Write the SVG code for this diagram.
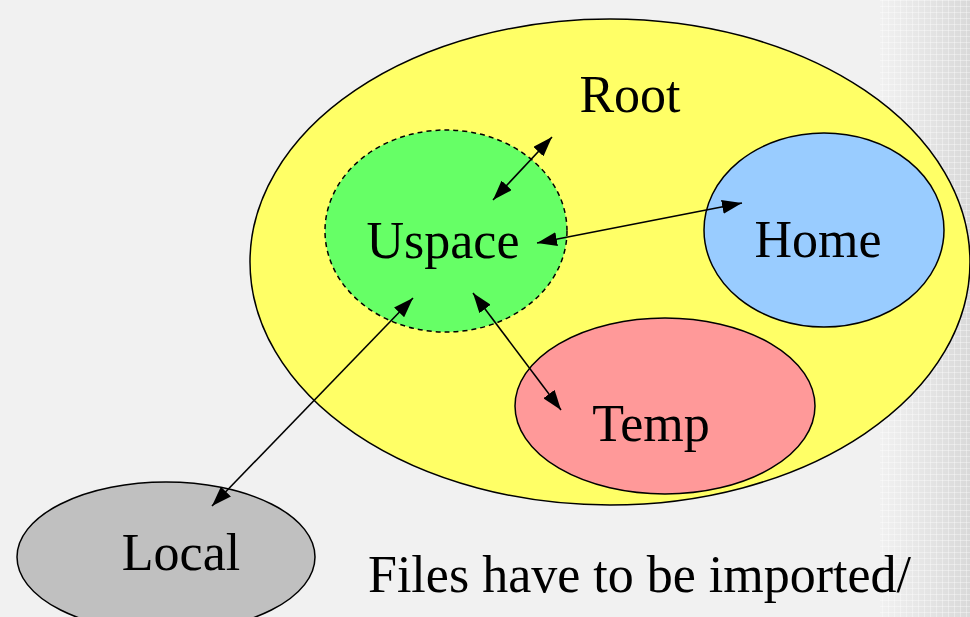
<svg xmlns="http://www.w3.org/2000/svg" width="970" height="617" viewBox="0 0 970 617">
<defs>
<linearGradient id="bgr" x1="880" y1="0" x2="970" y2="0" gradientUnits="userSpaceOnUse">
<stop offset="0" stop-color="#f1f1f1"/>
<stop offset="1" stop-color="#d9d9d9"/>
</linearGradient>
<pattern id="grid" x="0" y="0" width="6" height="6" patternUnits="userSpaceOnUse">
<path d="M0 0.5H6M0.5 0V6" stroke="#ffffff" stroke-opacity="0.35" stroke-width="1" fill="none"/>
</pattern>
<marker id="ah" viewBox="0 0 20 14" refX="20" refY="7" markerWidth="20" markerHeight="14" markerUnits="userSpaceOnUse" orient="auto-start-reverse">
<path d="M0 0L20 7L0 14z" fill="#000"/>
</marker>
</defs>
<style>
.lbl{font-family:"Liberation Serif","Times New Roman",serif;font-size:52px;fill:#000;text-anchor:middle}
.shape{stroke:#000;stroke-width:1.5}
.conn{stroke:#000;stroke-width:1.6;fill:none;marker-start:url(#ah);marker-end:url(#ah)}
</style>
<rect x="0" y="0" width="970" height="617" fill="#f1f1f1"/>
<rect x="880" y="0" width="90" height="617" fill="url(#bgr)"/>
<rect x="880" y="0" width="90" height="617" fill="url(#grid)"/>
<g id="root">
<ellipse class="shape" cx="610" cy="262" rx="360" ry="243" fill="#ffff66"/>
<text class="lbl" x="630" y="112">Root</text>
</g>
<g id="uspace">
<ellipse cx="446" cy="231" rx="121" ry="101" fill="#66ff66" stroke="#000" stroke-width="1.5" stroke-dasharray="5,4"/>
<text class="lbl" x="443" y="258">Uspace</text>
</g>
<g id="home">
<ellipse class="shape" cx="824" cy="230" rx="120" ry="97" fill="#99ccff"/>
<text class="lbl" x="818" y="257">Home</text>
</g>
<g id="temp">
<ellipse class="shape" cx="665" cy="406" rx="150" ry="88" fill="#ff9999"/>
<text class="lbl" x="651" y="441">Temp</text>
</g>
<g id="local">
<ellipse class="shape" cx="166" cy="557" rx="149" ry="75" fill="#c0c0c0"/>
<text class="lbl" x="181" y="570">Local</text>
</g>
<g id="connectors">
<line class="conn" x1="493" y1="200" x2="552" y2="137"/>
<line class="conn" x1="537" y1="243" x2="742" y2="203"/>
<line class="conn" x1="473" y1="293" x2="561" y2="410"/>
<line class="conn" x1="413" y1="298" x2="212" y2="506"/>
</g>
<text x="368" y="592" font-family="Liberation Serif, Times New Roman, serif" font-size="52" fill="#000">Files have to be imported/</text>
</svg>
